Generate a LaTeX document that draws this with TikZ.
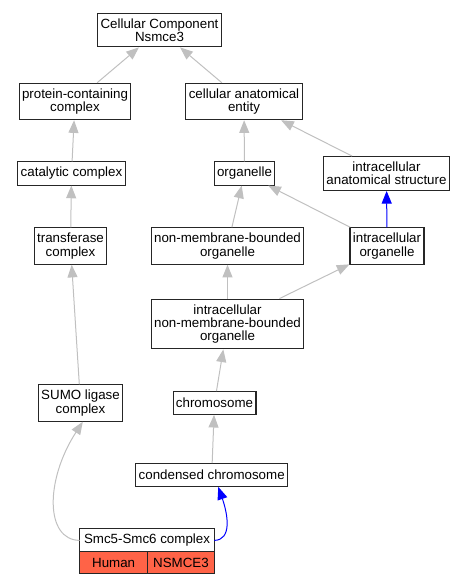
\documentclass[tikz,border=0pt]{standalone}
\usepackage{fontspec}
\setmainfont{Liberation Sans}
\usetikzlibrary{positioning,arrows.meta}
\definecolor{edgegray}{HTML}{C0C0C0}
\definecolor{tomato}{HTML}{FF6347}

\begin{document}
\begin{tikzpicture}[x=0.75pt,y=-0.75pt,
    term/.style={draw=black!85, line width=0.8pt, fill=white, align=center,
        inner xsep=2.2pt, inner ysep=4pt, minimum height=17pt,
        font=\fontsize{10}{10}\selectfont},
    isa/.style={draw=edgegray, line width=0.75pt, -{Triangle[length=9.5pt,width=7.5pt]}},
    partof/.style={isa, draw=blue},
    gene/.style={term, fill=tomato, minimum height=16pt, inner ysep=2pt, outer sep=0pt}]
    \useasboundingbox (0,0) rectangle (467,584);

    % GO terms
    \node[term] (cc) at (159.5,30) {Cellular Component\\Nsmce3};
    \node[term] (pcc) at (75,101.5) {protein-containing\\complex};
    \node[term] (cae) at (244,101.5) {cellular anatomical\\entity};
    \node[term] (catc) at (71.5,173.5) {catalytic complex};
    \node[term] (org) at (244.5,173.5) {organelle};
    \node[term] (ias) at (386.5,173.5) {intracellular\\anatomical structure};
    \node[term] (trc) at (70.5,246) {transferase\\complex};
    \node[term] (nmbo) at (227.5,246) {non-membrane-bounded\\organelle};
    \node[term] (io) at (387,246) {intracellular\\organelle};
    \node[term] (inmbo) at (227.5,324) {intracellular\\non-membrane-bounded\\organelle};
    \node[term] (sumo) at (80.5,403) {SUMO ligase\\complex};
    \node[term] (chr) at (214.5,403) {chromosome};
    \node[term] (cchr) at (211.7,475) {condensed chromosome};
    \node[term, minimum width=101pt, outer sep=0pt] (smc) at (147,540.4) {Smc5-Smc6 complex};
    \node[gene, minimum width=51pt, below right=0pt and 0pt of smc.south west] (human) {Human};
    \node[gene, minimum width=50pt, below left=0pt and 0pt of smc.south east] (nsmce) {NSMCE3};

    % relations
    \draw[isa] (pcc) -- (cc);
    \draw[isa] (cae) -- (cc);
    \draw[isa] (catc) -- (pcc);
    \draw[isa] (org) -- (cae);
    \draw[isa] (ias) -- (cae);
    \draw[isa] (trc) -- (catc);
    \draw[isa] (nmbo) -- (org);
    \draw[isa] (io) -- (org);
    \draw[partof] (io) -- (ias);
    \draw[isa] (inmbo) -- (nmbo);
    \draw[isa] (inmbo) -- (io);
    \draw[isa] (chr) -- (inmbo);
    \draw[isa] (sumo) -- (trc);
    \draw[isa] (cchr) -- (chr);
    \draw[isa] (smc.west) .. controls (45,540) and (45,480) .. (sumo.-83);
    \draw[partof] (smc.east) .. controls (232,540) and (228,515) .. (cchr.-61);
\end{tikzpicture}
\end{document}
